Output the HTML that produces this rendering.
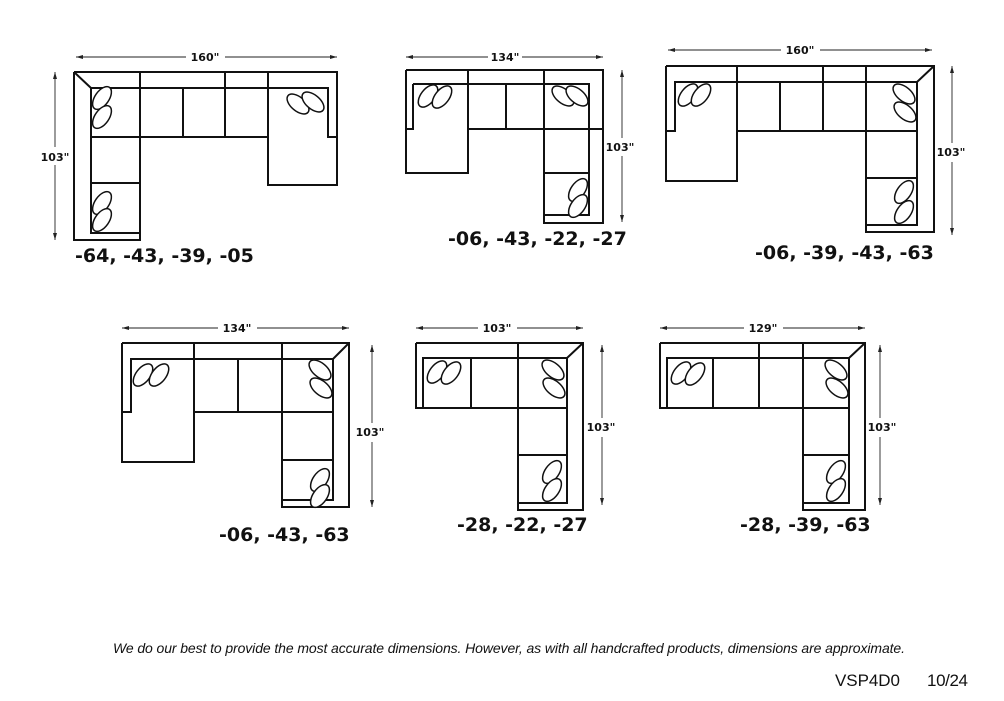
<!DOCTYPE html>
<html><head><meta charset="utf-8"><style>
body{margin:0;background:#fff;}
svg{display:block}
.l{stroke:#111;stroke-width:2;fill:none}
.d{stroke:#222;stroke-width:0.9;fill:none}
.e{stroke:#111;stroke-width:1.5;fill:#fff}
.dim{font:bold 11px "DejaVu Sans",sans-serif;fill:#111}
.code{font:bold 19px "DejaVu Sans",sans-serif;fill:#111}
</style></head><body>
<svg width="1004" height="701" viewBox="0 0 1004 701" xmlns="http://www.w3.org/2000/svg">
<defs><marker id="a" markerWidth="8" markerHeight="6" refX="7" refY="3" orient="auto" markerUnits="userSpaceOnUse"><path d="M0,1 L7,3 L0,5z" fill="#222"/></marker></defs>
<g class="l">
<path d="M74,72 H337 V185 H268 V72 M74,72 V240 H140 V72 M74,72 L91,88 H328 V137 H337 M91,88 V233 H140 M91,137 H268 M91,183 H140 M183,88 V137 M225,72 V137"/>
<path d="M406,70 H603 V223 H544 V70 M406,70 V173 H468 V70 M413,84 H589 V215 H544 M413,84 V129 H406 M468,129 H603 M506,84 V129 M544,173 H589"/>
<path d="M666,66 H934 V232 H866 V66 M666,66 V181 H737 V66 M934,66 L917,82 H675 V131 H666 M917,82 V225 H866 M737,131 H917 M780,82 V131 M823,66 V131 M866,178 H917"/>
<path d="M122,343 H349 V507 H282 V343 M122,343 V462 H194 V343 M349,343 L333,359 H131 V412 H122 M333,359 V500 H282 M194,412 H333 M238,359 V412 M282,460 H333"/>
<path d="M416,343 H583 V510 H518 V343 M416,343 V408 H567 M583,343 L567,358 H423 V408 M567,358 V503 H518 M471,358 V408 M518,455 H567"/>
<path d="M660,343 H865 V510 H803 V343 M660,343 V408 H849 M865,343 L849,358 H667 V408 M849,358 V503 H803 M713,358 V408 M759,343 V408 M803,455 H849"/>
</g>
<g class="e">
<ellipse cx="102" cy="98" rx="7" ry="13" transform="rotate(35 102 98)"/><ellipse cx="102" cy="117" rx="7" ry="13" transform="rotate(35 102 117)"/>
<ellipse cx="102" cy="203" rx="7" ry="13" transform="rotate(35 102 203)"/><ellipse cx="102" cy="220" rx="7" ry="13" transform="rotate(35 102 220)"/>
<ellipse cx="298" cy="104" rx="7" ry="13" transform="rotate(-50 298 104)"/><ellipse cx="313" cy="102" rx="7" ry="13" transform="rotate(-50 313 102)"/>
<ellipse cx="428" cy="96" rx="7" ry="13" transform="rotate(38 428 96)"/><ellipse cx="442" cy="97" rx="7" ry="13" transform="rotate(38 442 97)"/>
<ellipse cx="563" cy="96" rx="7" ry="13" transform="rotate(-50 563 96)"/><ellipse cx="577" cy="96" rx="7" ry="13" transform="rotate(-50 577 96)"/>
<ellipse cx="578" cy="190" rx="7" ry="13" transform="rotate(35 578 190)"/><ellipse cx="578" cy="206" rx="7" ry="13" transform="rotate(35 578 206)"/>
<ellipse cx="688" cy="95" rx="7" ry="13" transform="rotate(38 688 95)"/><ellipse cx="701" cy="95" rx="7" ry="13" transform="rotate(38 701 95)"/>
<ellipse cx="904" cy="94" rx="7" ry="13" transform="rotate(-50 904 94)"/><ellipse cx="905" cy="112" rx="7" ry="13" transform="rotate(-50 905 112)"/>
<ellipse cx="904" cy="192" rx="7" ry="13" transform="rotate(35 904 192)"/><ellipse cx="904" cy="212" rx="7" ry="13" transform="rotate(35 904 212)"/>
<ellipse cx="143" cy="375" rx="7" ry="13" transform="rotate(38 143 375)"/><ellipse cx="159" cy="375" rx="7" ry="13" transform="rotate(38 159 375)"/>
<ellipse cx="320" cy="370" rx="7" ry="13" transform="rotate(-50 320 370)"/><ellipse cx="321" cy="388" rx="7" ry="13" transform="rotate(-50 321 388)"/>
<ellipse cx="320" cy="480" rx="7" ry="13" transform="rotate(35 320 480)"/><ellipse cx="320" cy="496" rx="7" ry="13" transform="rotate(35 320 496)"/>
<ellipse cx="437" cy="372" rx="7" ry="13" transform="rotate(38 437 372)"/><ellipse cx="451" cy="373" rx="7" ry="13" transform="rotate(38 451 373)"/>
<ellipse cx="553" cy="370" rx="7" ry="13" transform="rotate(-50 553 370)"/><ellipse cx="554" cy="388" rx="7" ry="13" transform="rotate(-50 554 388)"/>
<ellipse cx="552" cy="472" rx="7" ry="13" transform="rotate(35 552 472)"/><ellipse cx="552" cy="490" rx="7" ry="13" transform="rotate(35 552 490)"/>
<ellipse cx="681" cy="373" rx="7" ry="13" transform="rotate(38 681 373)"/><ellipse cx="695" cy="374" rx="7" ry="13" transform="rotate(38 695 374)"/>
<ellipse cx="836" cy="370" rx="7" ry="13" transform="rotate(-50 836 370)"/><ellipse cx="837" cy="388" rx="7" ry="13" transform="rotate(-50 837 388)"/>
<ellipse cx="836" cy="472" rx="7" ry="13" transform="rotate(35 836 472)"/><ellipse cx="836" cy="490" rx="7" ry="13" transform="rotate(35 836 490)"/>
</g>
<g class="d" marker-end="url(#a)">
<path d="M186,57 H76"/><path d="M225,57 H337"/><path d="M55,147 V72"/><path d="M55,165 V240"/>
<path d="M488,57 H406"/><path d="M522,57 H603"/><path d="M622,138 V70"/><path d="M622,156 V222"/>
<path d="M781,50 H668"/><path d="M820,50 H932"/><path d="M952,143 V66"/><path d="M952,162 V235"/>
<path d="M218,328 H122"/><path d="M257,328 H349"/><path d="M372,423 V345"/><path d="M372,442 V507"/>
<path d="M478,328 H416"/><path d="M517,328 H583"/><path d="M602,418 V345"/><path d="M602,437 V505"/>
<path d="M744,328 H660"/><path d="M783,328 H865"/><path d="M880,418 V345"/><path d="M880,437 V505"/>
</g>
<g class="dim">
<text x="205" y="61" text-anchor="middle">160"</text><text x="55" y="161" text-anchor="middle">103"</text>
<text x="505" y="61" text-anchor="middle">134"</text><text x="620" y="151" text-anchor="middle">103"</text>
<text x="800" y="54" text-anchor="middle">160"</text><text x="951" y="156" text-anchor="middle">103"</text>
<text x="237" y="332" text-anchor="middle">134"</text><text x="370" y="436" text-anchor="middle">103"</text>
<text x="497" y="332" text-anchor="middle">103"</text><text x="601" y="431" text-anchor="middle">103"</text>
<text x="763" y="332" text-anchor="middle">129"</text><text x="882" y="431" text-anchor="middle">103"</text>
</g>
<g class="code">
<text x="75" y="262">-64, -43, -39, -05</text>
<text x="448" y="245">-06, -43, -22, -27</text>
<text x="755" y="259">-06, -39, -43, -63</text>
<text x="219" y="541">-06, -43, -63</text>
<text x="457" y="531">-28, -22, -27</text>
<text x="740" y="531">-28, -39, -63</text>
</g>
<text x="509" y="653" text-anchor="middle" textLength="792" style="font:italic 14px 'Liberation Sans',sans-serif;fill:#111">We do our best to provide the most accurate dimensions.  However, as with all handcrafted products, dimensions are approximate.</text>
<text x="835" y="686" textLength="65" style="font:17px 'Liberation Sans',sans-serif;fill:#111">VSP4D0</text>
<text x="927" y="686" textLength="41" style="font:17px 'Liberation Sans',sans-serif;fill:#111">10/24</text>
</svg>
</body></html>
